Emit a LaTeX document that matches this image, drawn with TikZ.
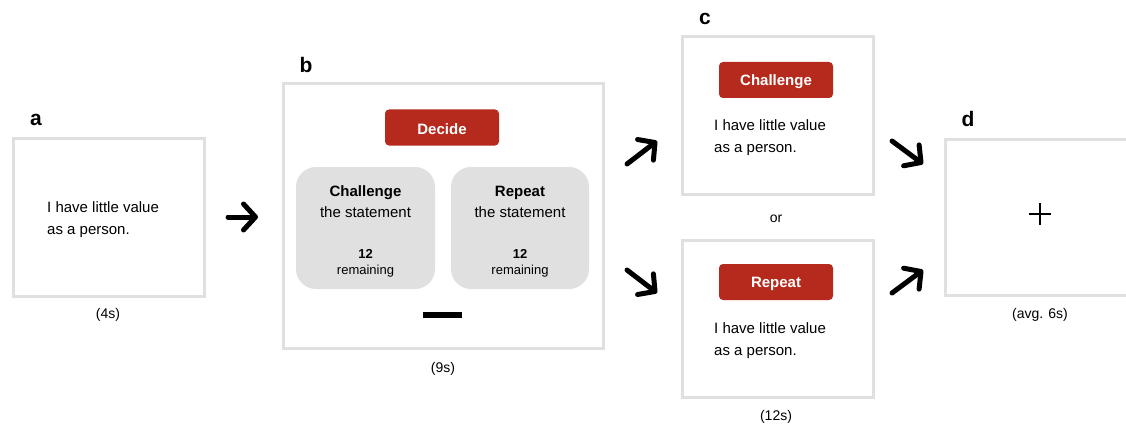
\documentclass[tikz,border=0pt]{standalone}
\usepackage{fontspec}
\setmainfont{Liberation Sans}
\usetikzlibrary{arrows.meta}

\definecolor{framegray}{RGB}{224,224,224}
\definecolor{cardgray}{RGB}{224,224,224}
\definecolor{btnred}{RGB}{182,42,30}

\newcommand{\fs}[2]{\fontsize{#1}{#2}\selectfont}

\tikzset{
  screen/.style={draw=framegray, line width=3pt, fill=white, inner sep=0pt},
  txt/.style={inner sep=0pt, yshift=-2pt},
  panel/.style={txt, font=\fs{21}{25}\bfseries},
  stmt/.style={txt, font=\fs{15}{22}, align=left, anchor=west},
  caption/.style={txt, font=\fs{14}{17}},
  button/.style={fill=btnred, rounded corners=4pt, minimum width=114pt, minimum height=36pt,
                 inner sep=0pt, text=white, font=\fs{15}{18}\bfseries},
  btnlabel/.style={txt, text=white, font=\fs{15}{18}\bfseries},
  card/.style={fill=cardgray, rounded corners=20pt, minimum height=122pt, inner sep=0pt},
  cardtitle/.style={txt, font=\fs{15}{18}\bfseries},
  cardtext/.style={txt, font=\fs{15}{18}},
  cardnum/.style={txt, font=\fs{13}{16}\bfseries},
  cardsmall/.style={txt, font=\fs{13}{16}},
  flow/.style={line width=5pt, line cap=round, -{Straight Barb[length=12pt,width=26pt,round]}},
}

\begin{document}
\begin{tikzpicture}[x=1pt, y=-1pt]
  \useasboundingbox (0,0) rectangle (1126,425);
  \clip (0,0) rectangle (1126,425);

  % a: statement screen
  \node[panel] (la) at (36,118) {a};
  \node[screen, minimum width=191pt, minimum height=158pt] (a) at (108.5,217) {};
  \node[stmt] (ta) at (47,218) {I have little value\\as a person.};
  \node[caption] (ca) at (108,313) {(4s)};

  % b: decision screen
  \node[panel] (lb) at (306,63) {b};
  \node[screen, minimum width=320pt, minimum height=264pt] (b) at (443,216) {};
  \node[button] (decide) at (442,127.5) {};
  \node[btnlabel] (decidet) at (decide) {Decide};
  \node[card, minimum width=139pt] (chal) at (365.5,228) {};
  \node[card, minimum width=138pt] (rep) at (520,228) {};
  \node[cardtitle] (chal1) at (365.5,191) {Challenge};
  \node[cardtext]  (chal2) at (365.5,210) {the statement};
  \node[cardnum]   (chal3) at (365.5,252) {12};
  \node[cardsmall] (chal4) at (365.5,269) {remaining};
  \node[cardtitle] (rep1) at (520,191) {Repeat};
  \node[cardtext]  (rep2) at (520,210) {the statement};
  \node[cardnum]   (rep3) at (520,252) {12};
  \node[cardsmall] (rep4) at (520,269) {remaining};
  \node[fill=black, minimum width=39pt, minimum height=6pt, inner sep=0pt] (bar) at (442.5,315) {};
  \node[caption] (cb) at (443,367) {(9s)};

  % c: feedback screens
  \node[panel] (lc) at (705,17) {c};
  \node[screen, minimum width=191pt, minimum height=157pt] (c1) at (777.5,115.5) {};
  \node[button] (bc1) at (776,80) {};
  \node[btnlabel] (bc1t) at (bc1) {Challenge};
  \node[stmt] (tc1) at (714,136) {I have little value\\as a person.};
  \node[caption] (or) at (776,217) {or};
  \node[screen, minimum width=191pt, minimum height=157pt] (c2) at (777.5,318.5) {};
  \node[button] (bc2) at (776,282) {};
  \node[btnlabel] (bc2t) at (bc2) {Repeat};
  \node[stmt] (tc2) at (714,339) {I have little value\\as a person.};
  \node[caption] (cc) at (776,415) {(12s)};

  % d: fixation screen
  \node[panel] (ld) at (968,117) {d};
  \node[screen, minimum width=191pt, minimum height=156pt] (d) at (1040.5,217) {};
  \coordinate (fix) at (1040,214);
  \draw[line width=2pt] ([xshift=-11pt]fix) -- ([xshift=11pt]fix)
                        ([yshift=-11pt]fix) -- ([yshift=11pt]fix);
  \node[caption] (cd) at (1040,313) {(avg. 6s)};

  % transition arrows
  \coordinate (ab0) at (228,217);   \coordinate (ab1) at (258,217);
  \coordinate (bc0) at (627,164);   \coordinate (bc1) at (657,141);
  \coordinate (bd0) at (627,270);   \coordinate (bd1) at (657,293);
  \coordinate (cd0) at (892,141);   \coordinate (cd1) at (923,164);
  \coordinate (dd0) at (892,293);   \coordinate (dd1) at (923,270);
  \draw[flow] (ab0) -- (ab1);
  \draw[flow] (bc0) -- (bc1);
  \draw[flow] (bd0) -- (bd1);
  \draw[flow] (cd0) -- (cd1);
  \draw[flow] (dd0) -- (dd1);
\end{tikzpicture}
\end{document}
